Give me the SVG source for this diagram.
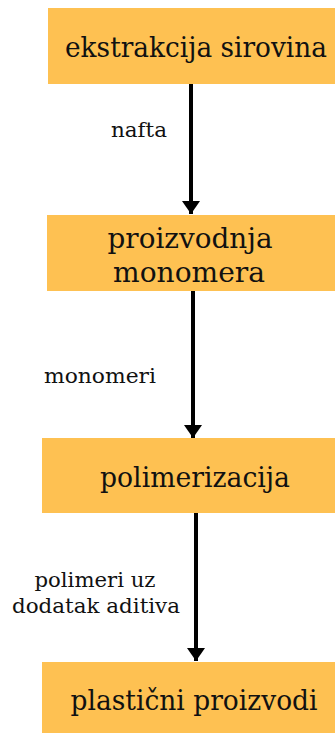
<svg xmlns="http://www.w3.org/2000/svg" width="335" height="733" viewBox="0 0 335 733">
<style>
.box{fill:#FEC152}
.nt{font-family:"DejaVu Serif","Liberation Serif",serif;font-size:25px;fill:#111;text-anchor:middle}
.lb{font-family:"DejaVu Serif","Liberation Serif",serif;font-size:21px;fill:#111;text-anchor:middle}
.ln{stroke:#000;stroke-width:4;fill:none}
</style>
<defs>
<marker id="ah" markerWidth="3.5" markerHeight="4.6" refX="3.3" refY="2.3" orient="auto" markerUnits="strokeWidth">
<path d="M0,0 L3.3,2.3 L0,4.6 Z" fill="#000"/>
</marker>
</defs>
<rect width="335" height="733" fill="#fff"/>
<g id="n1"><rect class="box" x="48" y="8" width="287" height="76"/><text class="nt" transform="translate(196,57) scale(1,1.15)" x="0" y="0" textLength="262" lengthAdjust="spacingAndGlyphs">ekstrakcija sirovina</text></g>
<g id="n2"><rect class="box" x="47" y="215" width="288" height="76"/><text class="nt" transform="translate(190,248) scale(1,1.15)" x="0" y="0" textLength="165" lengthAdjust="spacingAndGlyphs">proizvodnja</text><text class="nt" transform="translate(189,282) scale(1,1.15)" x="0" y="0" textLength="152" lengthAdjust="spacingAndGlyphs">monomera</text></g>
<g id="n3"><rect class="box" x="42" y="438" width="293" height="75"/><text class="nt" transform="translate(195,487) scale(1,1.15)" x="0" y="0" textLength="190" lengthAdjust="spacingAndGlyphs">polimerizacija</text></g>
<g id="n4"><rect class="box" x="42" y="662" width="293" height="71"/><text class="nt" transform="translate(194,710) scale(1,1.15)" x="0" y="0" textLength="247" lengthAdjust="spacingAndGlyphs">plastični proizvodi</text></g>
<g id="edges">
<line class="ln" x1="191" y1="84" x2="191" y2="214" marker-end="url(#ah)"/>
<line class="ln" x1="193" y1="291" x2="193" y2="438" marker-end="url(#ah)"/>
<line class="ln" x1="196" y1="513" x2="196" y2="661" marker-end="url(#ah)"/>
<text class="lb" x="139" y="137" textLength="56" lengthAdjust="spacingAndGlyphs">nafta</text>
<text class="lb" x="100" y="383" textLength="112" lengthAdjust="spacingAndGlyphs">monomeri</text>
<text class="lb" x="95" y="587" textLength="121" lengthAdjust="spacingAndGlyphs">polimeri uz</text>
<text class="lb" x="96" y="613" textLength="168" lengthAdjust="spacingAndGlyphs">dodatak aditiva</text>
</g>
</svg>
